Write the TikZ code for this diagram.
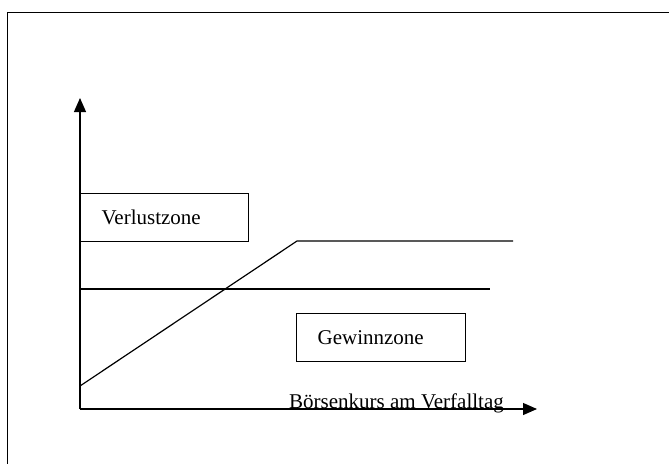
\documentclass[tikz,border=0pt]{standalone}
\usepackage{fontspec}
\setmainfont{Liberation Serif}
\usetikzlibrary{arrows.meta}
\begin{document}
\begin{tikzpicture}[x=1pt,y=-1pt,
  ln/.style={line width=1.2pt},
  zonebox/.style={draw,line width=1.2pt,rectangle,minimum height=48pt,inner xsep=21pt,inner ysep=0pt,align=left,anchor=north west,font=\fontsize{21}{25}\selectfont},
  axarrow/.style={ln,-{Triangle[length=14pt,width=12pt]}}]
\useasboundingbox (0,0) rectangle (669,463);
\begin{scope}
\clip (0,0) rectangle (669,463);
\draw[line width=1.3pt] (7.5,470) -- (7.5,12.5) -- (680,12.5);
\end{scope}
\coordinate (O) at (80,409);
\coordinate (ytip) at (80,98);
\coordinate (xtip) at (537,409);
\draw[axarrow] (O) -- (ytip);
\draw[axarrow] (O) -- (xtip);
\node[zonebox,text width=126pt] (verlust) at (80,193) {Verlustzone};
\node[zonebox,text width=127pt] (gewinn) at (296,313) {Gewinnzone};
\node[anchor=base west,inner sep=0pt,font=\fontsize{21}{25}\selectfont] (kurs) at (289,408) {Börsenkurs am Verfalltag};
\coordinate (d0) at (80,386);
\coordinate (d1) at (297,241);
\coordinate (d2) at (513,241);
\coordinate (h0) at (80,289);
\coordinate (h1) at (490,289);
\draw[ln] (d0) -- (d1) -- (d2);
\draw[ln] (h0) -- (h1);
\end{tikzpicture}
\end{document}
